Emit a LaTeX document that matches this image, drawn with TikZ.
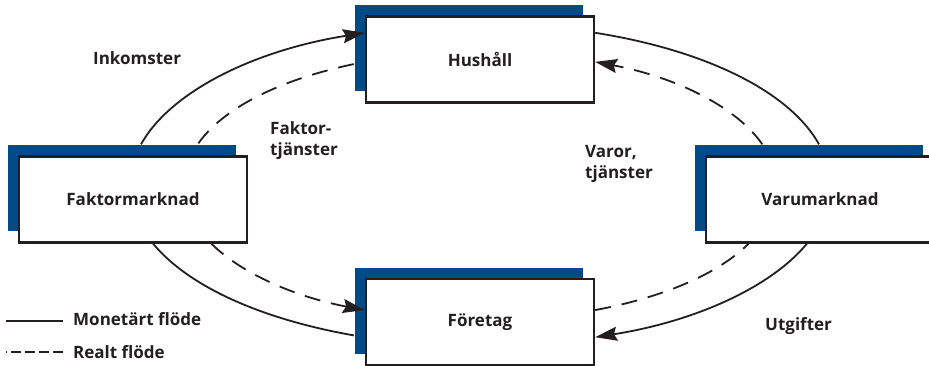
\documentclass[tikz,border=0pt]{standalone}
\usepackage{fontspec}
\setmainfont{Open Sans}
\usetikzlibrary{arrows.meta,shadows}
\definecolor{kretsblue}{RGB}{0,74,135}
\definecolor{ink}{RGB}{35,31,32}
\newcommand{\labelfont}{\fontsize{17}{21.7}\selectfont\bfseries}
\tikzset{
  market/.style={draw=ink, line width=2.4pt, fill=white, minimum width=228pt,
    minimum height=86pt, font=\labelfont, text=ink,
    general shadow={fill=kretsblue, draw=none, shadow xshift=-11pt, shadow yshift=11pt}},
  money/.style={draw=ink, line width=1.8pt},
  goods/.style={money, dash pattern=on 16pt off 11pt},
  tip/.style={-{Stealth[length=22pt,width=14pt,inset=3pt]}},
  lbl/.style={text=ink, font=\labelfont, align=left, inner sep=0pt}
}

\begin{document}
\begin{tikzpicture}[x=1pt, y=1pt]
  \useasboundingbox (0,0) rectangle (929,366);

  % Markets and sectors
  \node[market] (hush) at (480,306.5) {Hushåll};
  \node[market] (fak) at (133,166.5) {Faktormarknad};
  \node[market] (varu) at (820,166.5) {Varumarknad};
  \node[market] (foret) at (480,44) {Företag};

  % Monetary flow (outer loop)
  \draw[money, tip] ([shift={(8pt,11pt)}]fak.north) .. controls +(29.2,52.4) and +(-111.2,-17.6) .. ([yshift=26.7pt]hush.west);
  \draw[money] ([yshift=26.7pt]hush.east) .. controls +(111.2,-17.6) and +(-29.2,52.4) .. ([shift={(-1pt,11pt)}]varu.north);
  \draw[money, tip] ([xshift=-13.1pt]varu.south) .. controls +(-37.0,-44.6) and +(98.0,15.5) .. ([yshift=-15.2pt]foret.east);
  \draw[money] ([shift={(-11pt,-13.4pt)}]foret.west) .. controls +(-93.1,16.4) and +(35.6,-42.8) .. ([xshift=20.1pt]fak.south);

  % Real flow (inner loop)
  \draw[goods] ([shift={(-11pt,-4.6pt)}]hush.west) .. controls +(-75.2,-15.9) and +(25.0,36.0) .. ([shift={(64.7pt,11pt)}]fak.north);
  \draw[goods, tip] ([xshift=78.4pt]fak.south) .. controls +(31.1,-30.6) and +(-68.4,13.0) .. ([yshift=11.9pt]foret.west);
  \draw[goods] ([yshift=11.9pt]foret.east) .. controls +(68.4,13.0) and +(-31.1,-30.6) .. ([xshift=-71.4pt]varu.south);
  \draw[goods, tip] ([shift={(-57.7pt,11pt)}]varu.north) .. controls +(-26.2,37.8) and +(80.5,-15.3) .. ([yshift=-2.4pt]hush.east);

  % Flow labels (base = last line)
  \node[lbl, anchor=base west] (inkomster) at (93,301.7) {Inkomster};
  \node[lbl, anchor=base west] (faktj) at (270,210) {Faktor-\\tjänster};
  \node[lbl, anchor=base west] (vartj) at (585,187) {Varor,\\tjänster};
  \node[lbl, anchor=base west] (utgifter) at (765,35.3) {Utgifter};

  % Legend
  \node[lbl, anchor=base west] (leg-money) at (73,40) {Monetärt flöde};
  \node[lbl, anchor=base west] (leg-real) at (73,7.7) {Realt flöde};
  \draw[money] ([shift={(-10pt,5.3pt)}]leg-money.base west) -- ++(-57pt,0);
  \draw[money, dash pattern=on 10pt off 4pt] ([shift={(-10pt,6.6pt)}]leg-real.base west) -- ++(-57pt,0);
\end{tikzpicture}
\end{document}
